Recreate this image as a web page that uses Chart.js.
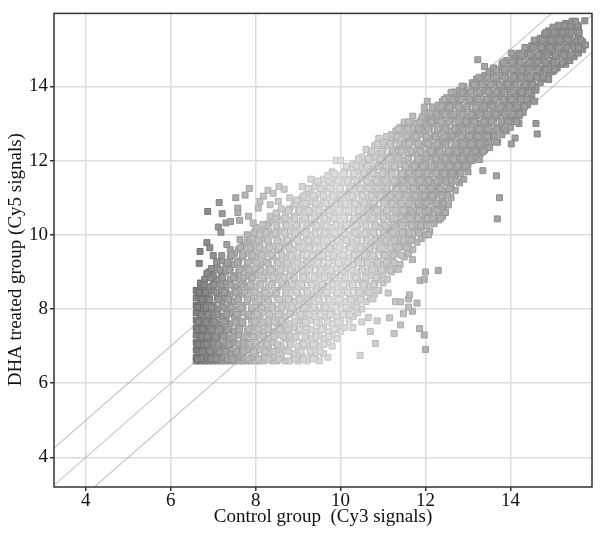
<!DOCTYPE html>
<html>
<head>
<meta charset="utf-8">
<title>DHA scatter</title>
<script src="https://cdn.jsdelivr.net/npm/chart.js@4"></script>
<style>
  html, body { margin: 0; padding: 0; background: #fff; }
  canvas { display: block; filter: blur(0.4px); }
</style>
</head>
<body>
<canvas id="grafico" width="600" height="535"></canvas>
<script>
const xTicks = [4, 6, 8, 10, 12, 14];
const yTicks = [4, 6, 8, 10, 12, 14];

// each row of the cloud: one signal level on y, the x values found there
const yLevels = [6.6,6.7,6.8,6.9,7.0,7.1,7.2,7.3,7.4,7.5,7.6,7.7,7.8,7.9,8.0,8.1,8.2,8.3,8.4,8.5,8.6,8.7,8.8,8.9,9.0,9.1,9.2,9.3,9.4,9.5,9.6,9.7,9.8,9.9,10.0,10.1,10.2,10.3,10.4,10.5,10.6,10.7,10.8,10.9,11.0,11.1,11.2,11.3,11.4,11.5,11.6,11.7,11.8,11.9,12.0,12.1,12.2,12.3,12.4,12.5,12.6,12.7,12.8,12.9,13.0,13.1,13.2,13.3,13.4,13.5,13.6,13.7,13.8,13.9,14.0,14.1,14.2,14.3,14.4,14.5,14.6,14.7,14.8,14.9,15.0,15.1,15.2,15.3,15.4,15.5,15.6,15.7];
const xRows = [
[6.6,6.7,6.8,6.9,7.0,7.1,7.2,7.3,7.4,7.5,7.6,7.7,7.8,7.9,8.0,8.1,8.2,8.4,8.5,8.7,8.8,9.0,9.2,9.5],
[6.6,6.8,7.0,7.2,7.5,7.7,7.9,8.2,8.4,8.6,8.9,9.1,9.4,9.7],
[6.7,6.9,7.1,7.4,7.6,8.0,8.3,8.6,8.9,9.3,9.6],
[6.6,6.8,7.0,7.3,7.6,7.8,8.1,8.5,8.7,9.0,9.4],
[6.7,6.9,7.2,7.4,7.7,8.0,8.3,8.6,9.0,9.2,9.5,9.8],
[6.6,6.8,7.0,7.3,7.5,7.8,8.2,8.4,8.8,9.1,9.4,9.7],
[6.7,6.9,7.1,7.4,7.7,8.0,8.3,8.7,8.9,9.3,9.6,9.9],
[6.6,6.8,7.0,7.2,7.6,7.9,8.1,8.5,8.8,9.2,9.5,9.8],
[6.7,6.9,7.3,7.5,7.8,8.2,8.4,8.7,9.0,9.4,9.7,10.0],
[6.6,6.8,7.0,7.2,7.6,7.9,8.3,8.6,8.9,9.2,9.6,9.9,10.1],
[6.7,6.9,7.1,7.4,7.7,8.0,8.2,8.5,8.8,9.1,9.5,9.8],
[6.6,6.8,7.0,7.3,7.6,7.9,8.3,8.6,9.0,9.3,9.7,10.0,10.2],
[6.7,6.9,7.2,7.5,7.8,8.1,8.4,8.7,9.1,9.4,9.6,9.9,10.3],
[6.6,6.8,7.0,7.4,7.7,8.0,8.2,8.6,8.9,9.2,9.5,9.8,10.1,10.4],
[6.7,6.9,7.1,7.3,7.6,7.9,8.3,8.5,8.8,9.1,9.4,9.7,10.0,10.2,10.5],
[6.6,6.8,7.0,7.4,7.7,8.1,8.4,8.7,9.0,9.3,9.6,9.9,10.3],
[6.7,6.9,7.2,7.5,7.8,8.0,8.3,8.6,8.9,9.2,9.5,9.8,10.1,10.4,10.6],
[6.6,6.8,7.1,7.3,7.6,7.9,8.2,8.5,8.8,9.1,9.4,9.7,10.0,10.3,10.7],
[6.7,6.9,7.2,7.4,7.7,8.1,8.4,8.7,9.0,9.3,9.6,9.9,10.2,10.5,10.8],
[6.6,6.8,7.0,7.3,7.6,7.9,8.2,8.5,8.9,9.2,9.5,9.8,10.1,10.4,10.6,10.9],
[6.7,6.9,7.2,7.5,7.8,8.0,8.3,8.6,8.8,9.1,9.4,9.7,10.0,10.3,10.7],
[6.7,7.0,7.3,7.7,8.1,8.4,8.7,9.0,9.3,9.6,9.9,10.2,10.5,10.8,11.0],
[6.8,7.1,7.4,7.6,7.9,8.2,8.5,8.9,9.2,9.5,9.8,10.1,10.4,10.6,10.9,11.1],
[7.0,7.2,7.5,7.8,8.0,8.3,8.6,8.8,9.1,9.4,9.7,10.0,10.3,10.7,11.0],
[6.9,7.3,7.6,7.9,8.2,8.5,8.9,9.2,9.5,9.8,10.1,10.4,10.6,10.9,11.2],
[7.1,7.4,7.7,8.0,8.4,8.7,9.0,9.3,9.6,9.9,10.2,10.5,10.8,11.1,11.3],
[7.3,7.5,7.8,8.1,8.3,8.6,8.8,9.1,9.4,9.7,10.0,10.3,10.7,11.0,11.4],
[7.2,7.6,7.9,8.2,8.5,8.9,9.2,9.5,9.8,10.1,10.4,10.6,10.9,11.2],
[7.4,7.7,8.0,8.4,8.7,9.0,9.3,9.6,9.9,10.2,10.5,10.8,11.1,11.5],
[7.5,7.8,8.1,8.3,8.6,8.8,9.1,9.4,9.7,10.0,10.3,10.7,11.0,11.3,11.6],
[7.4,7.6,7.9,8.2,8.5,8.9,9.2,9.5,9.8,10.1,10.4,10.6,10.9,11.2,11.7],
[7.7,8.0,8.4,8.7,9.0,9.3,9.6,9.9,10.2,10.5,10.8,11.1,11.4,11.6],
[7.8,8.1,8.3,8.6,8.8,9.1,9.4,9.7,10.0,10.3,10.7,11.0,11.3,11.5,11.8],
[7.9,8.2,8.5,8.9,9.2,9.5,9.8,10.1,10.4,10.6,10.9,11.2,11.4,11.7,11.9],
[7.8,8.0,8.4,8.7,9.0,9.3,9.6,9.9,10.2,10.5,10.8,11.1,11.3,11.6,12.0],
[8.1,8.3,8.6,8.8,9.1,9.4,9.7,10.0,10.3,10.7,11.0,11.2,11.5,11.8,12.1],
[8.0,8.2,8.5,8.9,9.2,9.5,9.8,10.1,10.4,10.6,10.9,11.1,11.4,11.7,11.9],
[8.3,8.7,9.0,9.3,9.6,9.9,10.2,10.5,10.8,11.0,11.3,11.6,11.8,12.0,12.2],
[8.4,8.6,8.8,9.1,9.4,9.7,10.0,10.3,10.7,11.2,11.5,11.7,11.9,12.1,12.3],
[8.5,8.9,9.2,9.5,9.8,10.1,10.4,10.6,10.9,11.1,11.4,11.6,11.8,12.0,12.4],
[8.7,9.0,9.3,9.6,9.9,10.2,10.5,10.8,11.0,11.3,11.5,11.7,12.1,12.3],
[8.6,8.8,9.1,9.4,9.7,10.0,10.3,10.7,10.9,11.2,11.4,11.6,11.9,12.2,12.4],
[8.9,9.2,9.5,9.8,10.1,10.4,10.6,10.8,11.1,11.3,11.5,11.8,12.0,12.3,12.5],
[9.0,9.3,9.6,9.9,10.2,10.5,10.7,11.0,11.2,11.4,11.7,11.9,12.1,12.4],
[8.8,9.1,9.4,9.7,10.0,10.3,10.6,10.9,11.1,11.3,11.6,11.8,12.0,12.2,12.6],
[9.2,9.5,9.8,10.1,10.4,10.8,11.0,11.2,11.5,11.7,11.9,12.1,12.3,12.5],
[9.3,9.6,9.9,10.2,10.5,10.7,10.9,11.1,11.4,11.6,11.8,12.0,12.2,12.4,12.7],
[9.1,9.4,9.7,10.0,10.3,10.6,10.8,11.0,11.3,11.5,11.7,11.9,12.1,12.3,12.6],
[9.5,9.8,10.1,10.4,10.7,10.9,11.2,11.4,11.6,11.8,12.0,12.2,12.5,12.8],
[9.3,9.6,9.9,10.2,10.5,10.8,11.0,11.3,11.5,11.7,11.9,12.1,12.4,12.6,12.9],
[9.7,10.0,10.3,10.6,10.9,11.1,11.4,11.6,11.8,12.0,12.3,12.5,12.7],
[9.8,10.1,10.4,10.7,11.0,11.2,11.5,11.7,11.9,12.2,12.4,12.6,12.8,13.0],
[10.2,10.5,10.8,11.1,11.3,11.6,11.8,12.0,12.1,12.3,12.5,12.7,12.9],
[10.3,10.6,10.9,11.0,11.4,11.7,11.9,12.2,12.4,12.6,12.8,13.0],
[9.9,10.5,10.7,11.0,11.2,11.5,11.8,12.0,12.3,12.5,12.7,12.9,13.1],
[10.5,10.8,11.1,11.3,11.6,11.9,12.1,12.4,12.6,12.8,13.0,13.2],
[10.7,10.9,11.2,11.4,11.7,12.0,12.2,12.5,12.7,12.9,13.1,13.3],
[10.6,11.0,11.3,11.5,11.8,12.1,12.3,12.6,12.8,13.0,13.2,13.4],
[10.8,11.1,11.4,11.6,11.9,12.2,12.4,12.7,12.9,13.1,13.3,13.5],
[11.0,11.2,11.5,11.7,12.0,12.3,12.5,12.8,13.0,13.2,13.4,13.7],
[10.9,11.3,11.6,11.8,12.1,12.4,12.6,12.9,13.1,13.3,13.6],
[11.2,11.4,11.7,11.9,12.2,12.5,12.7,13.0,13.2,13.4,13.5,13.8],
[11.3,11.5,11.8,12.0,12.3,12.6,12.8,13.1,13.3,13.6,13.9],
[11.4,11.7,11.9,12.1,12.4,12.7,12.9,13.2,13.4,13.7,14.0],
[11.5,11.8,12.0,12.2,12.5,12.8,13.0,13.3,13.5,13.8,14.2],
[11.9,12.1,12.3,12.6,12.9,13.1,13.4,13.6,13.9,14.1],
[11.7,12.0,12.2,12.4,12.7,13.0,13.2,13.5,13.7,14.0,14.2],
[12.1,12.3,12.5,12.8,13.1,13.3,13.6,13.8,14.1,14.3],
[12.2,12.4,12.6,12.9,13.2,13.4,13.7,13.9,14.2],
[12.3,12.5,12.7,13.0,13.3,13.5,13.8,14.0,14.3,14.4],
[12.4,12.6,12.8,13.1,13.4,13.6,13.9,14.1,14.4],
[12.5,12.7,12.9,13.2,13.5,13.7,14.0,14.2,14.3,14.5],
[12.7,12.8,13.0,13.3,13.6,13.8,14.1,14.3,14.5],
[12.8,12.9,13.1,13.4,13.7,13.9,14.2,14.4,14.6],
[12.9,13.1,13.2,13.5,13.8,14.0,14.3,14.5,14.6],
[13.1,13.3,13.6,13.9,14.1,14.4,14.7],
[13.2,13.4,13.7,14.0,14.2,14.5,14.8],
[13.4,13.5,13.8,14.1,14.3,14.6,14.9],
[13.5,13.6,13.9,14.2,14.4,14.7,15.0],
[13.6,13.8,14.0,14.3,14.5,14.8,15.1],
[13.8,14.1,14.4,14.6,14.9,15.2,15.3],
[13.9,14.2,14.5,14.7,15.0,15.3,15.4],
[14.1,14.3,14.6,14.8,15.1,15.4,15.5],
[14.2,14.4,14.7,14.9,15.2,15.5,15.6],
[14.4,14.5,14.8,15.0,15.3,15.6,15.7],
[14.5,14.7,14.9,15.1,15.4,15.6,15.7],
[14.6,14.8,15.0,15.2,15.5,15.7],
[14.7,14.9,15.1,15.3,15.6],
[14.8,15.0,15.2,15.4,15.6],
[14.9,15.1,15.3,15.5],
[15.0,15.2,15.4,15.6],
[15.3,15.5]
];

// second pass over the same cloud, between the rows above
const yLevelsFill = [6.65,6.85,7.05,7.25,7.45,7.65,7.85,8.05,8.25,8.45,8.65,8.85,9.05,9.25,9.45,9.65,9.85,10.05,10.25,10.45,10.65,10.85,11.05,11.25,11.45,11.65,11.85,12.05,12.25,12.45,12.65,12.85,13.05,13.25,13.45,13.65,13.85,14.05,14.25,14.45,14.65,14.85,15.05,15.25,15.45,15.65];
const xRowsFill = [
[6.63,6.72,6.95,7.08,7.33,7.46,7.82,8.07,8.31,8.55,8.93,9.12,9.36],
[6.66,6.75,6.93,7.15,7.28,7.55,7.72,7.95,8.22,8.42,8.78,9.07,9.28,9.52],
[6.64,6.78,6.85,7.12,7.37,7.58,7.86,8.13,8.27,8.52,8.82,9.13,9.35,9.61],
[6.73,6.86,7.06,7.24,7.47,7.73,7.94,8.18,8.43,8.66,8.95,9.16,9.42,9.72],
[6.62,6.76,6.97,7.16,7.35,7.62,7.83,8.06,8.29,8.57,8.76,9.04,9.31,9.56,9.85],
[6.65,6.83,7.04,7.27,7.52,7.68,7.97,8.16,8.44,8.63,8.92,9.17,9.43,9.69,9.94],
[6.72,6.88,7.11,7.32,7.56,7.84,8.04,8.33,8.54,8.81,9.06,9.26,9.53,9.76,10.06,10.22],
[6.63,6.84,6.96,7.23,7.44,7.66,7.91,8.14,8.38,8.62,8.85,9.14,9.37,9.64,9.88,10.13,10.37],
[6.74,6.92,7.13,7.36,7.58,7.81,8.08,8.28,8.56,8.77,9.03,9.24,9.47,9.73,9.96,10.24,10.47],
[6.66,6.82,7.07,7.26,7.53,7.74,7.98,8.23,8.47,8.72,8.97,9.22,9.44,9.66,9.93,10.16,10.44,10.66],
[6.78,7.02,7.18,7.42,7.67,7.88,8.12,8.37,8.64,8.86,9.08,9.33,9.57,9.82,10.07,10.28,10.54,10.78],
[6.94,7.22,7.48,7.71,7.92,8.17,8.41,8.67,8.91,9.13,9.38,9.62,9.86,10.12,10.36,10.58,10.84],
[7.16,7.38,7.63,7.85,8.11,8.35,8.58,8.83,9.09,9.27,9.54,9.77,10.03,10.26,10.51,10.74,10.96,11.16],
[7.34,7.57,7.82,8.03,8.26,8.53,8.74,8.98,9.23,9.46,9.71,9.95,10.17,10.42,10.63,10.87,11.08,11.26],
[7.43,7.69,7.93,8.15,8.39,8.61,8.84,9.11,9.34,9.58,9.83,10.05,10.32,10.56,10.76,11.04,11.24,11.43],
[7.64,7.87,8.09,8.32,8.55,8.79,9.02,9.26,9.49,9.74,9.97,10.23,10.46,10.68,10.93,11.17,11.37,11.55],
[7.86,8.06,8.28,8.51,8.75,8.99,9.24,9.45,9.68,9.92,10.14,10.38,10.62,10.83,11.06,11.27,11.48,11.66],
[7.96,8.24,8.46,8.68,8.93,9.18,9.41,9.63,9.87,10.09,10.34,10.57,10.77,11.03,11.24,11.45,11.62,11.84],
[8.25,8.48,8.73,8.96,9.21,9.44,9.67,9.89,10.13,10.37,10.59,10.82,11.05,11.26,11.46,11.67,11.88,12.03],
[8.46,8.69,8.92,9.16,9.39,9.62,9.85,10.08,10.33,10.55,10.75,11.01,11.23,11.42,11.64,11.83,12.04,12.18],
[8.77,9.03,9.25,9.48,9.73,9.96,10.18,10.43,10.65,10.86,11.08,11.28,11.47,11.66,11.86,12.06,12.27],
[8.94,9.17,9.42,9.65,9.88,10.12,10.34,10.56,10.78,11.02,11.21,11.43,11.62,11.83,12.03,12.26,12.43],
[9.13,9.36,9.59,9.83,10.04,10.27,10.52,10.73,10.94,11.16,11.36,11.55,11.76,11.97,12.16,12.38,12.52],
[9.24,9.54,9.76,9.98,10.23,10.46,10.66,10.88,11.09,11.31,11.49,11.72,11.92,12.13,12.34,12.57],
[9.46,9.72,9.94,10.16,10.38,10.62,10.84,11.06,11.26,11.46,11.67,11.87,12.07,12.27,12.47,12.72],
[9.85,10.08,10.32,10.55,10.76,10.98,11.21,11.44,11.63,11.84,12.04,12.25,12.44,12.63,12.83],
[10.14,10.37,10.63,10.87,11.07,11.27,11.53,11.74,11.94,12.14,12.36,12.56,12.76,12.94],
[10.42,10.66,10.94,11.14,11.36,11.58,11.82,12.03,12.24,12.46,12.66,12.86,13.06],
[10.73,10.96,11.23,11.44,11.66,11.87,12.13,12.33,12.54,12.74,12.97,13.17,13.36],
[10.86,11.17,11.38,11.62,11.83,12.06,12.27,12.48,12.69,12.88,13.08,13.28,13.48],
[11.08,11.33,11.56,11.77,12.02,12.23,12.44,12.64,12.84,13.04,13.24,13.46,13.63],
[11.36,11.58,11.84,12.07,12.28,12.47,12.68,12.88,13.07,13.26,13.47,13.67,13.86],
[11.64,11.87,12.14,12.36,12.56,12.77,12.96,13.16,13.37,13.56,13.78,13.96,14.14],
[11.97,12.26,12.46,12.66,12.87,13.07,13.27,13.46,13.66,13.87,14.06,14.22],
[12.16,12.38,12.57,12.78,12.97,13.18,13.38,13.57,13.76,13.97,14.16,14.33],
[12.44,12.64,12.84,13.04,13.24,13.44,13.64,13.84,14.02,14.24,14.38],
[12.66,12.86,13.06,13.26,13.47,13.66,13.86,14.06,14.26,14.43],
[13.14,13.34,13.54,13.74,13.94,14.13,14.34,14.52],
[13.26,13.46,13.66,13.87,14.07,14.26,14.46,14.62,14.78],
[13.67,13.86,14.06,14.26,14.44,14.64,14.84,15.04],
[13.84,14.04,14.23,14.44,14.64,14.83,15.03,15.22],
[14.07,14.27,14.46,14.66,14.86,15.06,15.26,15.42],
[14.34,14.54,14.73,14.93,15.14,15.33,15.52],
[14.56,14.76,14.96,15.16,15.36,15.56,15.66],
[14.83,15.03,15.23,15.43,15.62],
[15.13,15.27,15.42,15.58]
];

// stray points, away from the main cloud
const strayX = [6.87,7.14,7.21,7.53,7.75,7.85,7.12,7.18,7.3,7.41,7.62,7.58,7.58,7.83,7.94,8.17,8.06,8.34,8.48,8.1,8.55,8.67,8.97,8.29,8.41,8.18,8.34,8.53,6.85,6.69,6.67,6.92,7.0,7.08,6.85,6.96,7.2,7.32,7.63,7.93,8.1,10.0,10.46,10.82,10.29,10.7,11.26,11.41,11.86,10.5,10.65,10.86,11.15,11.48,11.69,11.6,11.29,11.41,11.8,11.6,11.62,11.12,10.86,10.76,11.69,11.36,11.87,12.0,11.97,12.3,11.97,12.0,13.69,13.74,13.67,13.35,13.27,13.23,13.39,14.6,14.63,14.11,14.02,13.67,13.51,14.02,12.86,12.6,12.54,12.47,12.35,12.07,12.04,11.97,11.92,11.5,11.6,15.75,15.77,15.6,15.45,15.53,14.57,14.9];
const strayY = [10.63,10.87,10.57,11.0,11.07,11.25,10.21,10.07,10.32,10.36,10.39,10.72,10.6,10.5,10.32,10.28,10.72,10.5,10.59,10.9,11.3,11.23,10.94,11.2,11.12,11.04,10.81,10.9,9.79,9.55,9.23,9.65,9.44,9.27,8.96,9.09,9.44,9.74,9.87,9.9,10.0,12.0,6.75,7.07,7.5,7.39,7.34,7.57,7.47,7.65,7.77,7.68,7.76,7.87,7.94,8.05,8.2,8.19,8.16,8.27,8.38,8.43,8.5,8.27,9.33,9.07,8.77,6.91,7.3,9.04,8.8,9.0,10.43,11.0,11.59,11.73,12.03,14.72,14.54,13.0,12.72,12.61,12.45,12.5,12.35,14.9,14.01,13.84,10.81,10.6,10.44,10.0,13.6,13.44,13.18,13.04,13.04,15.77,15.12,15.04,15.76,15.76,13.6,14.19];

// the three guide lines: equal signal and one unit either side
const upperLineX = [3.25, 14.97];
const upperLineY = [4.25, 15.97];
const middleLineX = [3.25, 15.92];
const middleLineY = [3.25, 15.92];
const lowerLineX = [4.2, 15.92];
const lowerLineY = [3.2, 14.92];

// grey of the squares along the x axis
const grisX = [6.6, 7.0, 7.5, 8.0, 9.0, 10.0, 11.0, 12.0, 13.0, 14.0, 15.0];
const grisValor = [130, 145, 170, 192, 212, 222, 204, 180, 168, 160, 150];

function juntar(xs, ys) {
    return xs.map((x, i) => ({ x: x, y: ys[i] }));
}

let puntos = [];
yLevels.forEach((y, i) => {
    xRows[i].forEach(x => puntos.push({ x: x, y: y }));
});
yLevelsFill.forEach((y, i) => {
    xRowsFill[i].forEach(x => puntos.push({ x: x, y: y }));
});
puntos = puntos.concat(juntar(strayX, strayY));

function gris(x) {
    let i = 0;
    while (i < grisX.length - 2 && x > grisX[i + 1]) i++;
    let t = (x - grisX[i]) / (grisX[i + 1] - grisX[i]);
    t = Math.min(1, Math.max(0, t));
    return Math.round(grisValor[i] + t * (grisValor[i + 1] - grisValor[i]));
}

function linea(xs, ys) {
    return {
        type: 'scatter',
        data: juntar(xs, ys),
        showLine: true,
        borderColor: 'rgba(150,150,150,0.55)',
        borderWidth: 1.1,
        pointRadius: 0,
        clip: true
    };
}

const fuente = 'Liberation Serif, Times New Roman, serif';

// marco completo del panel
const marco = {
    id: 'marco',
    afterDraw(chart) {
        const a = chart.chartArea;
        const ctx = chart.ctx;
        ctx.save();
        ctx.strokeStyle = '#333';
        ctx.lineWidth = 1.5;
        ctx.strokeRect(a.left, a.top, a.right - a.left, a.bottom - a.top);
        ctx.restore();
    }
};

function ejes(ticks, min, max, titulo, pad) {
    return {
        type: 'linear',
        min: min,
        max: max,
        afterBuildTicks: s => { s.ticks = ticks.map(v => ({ value: v })); },
        grid: { color: '#dcdcdc', lineWidth: 1.5, tickColor: '#333', tickLength: 4 },
        border: { display: false },
        ticks: { color: '#111', font: { family: fuente, size: 19 }, padding: 2, maxRotation: 0 },
        title: { display: true, text: titulo, color: '#111', font: { family: fuente, size: 19 }, padding: pad }
    };
}

const escalaX = ejes(xTicks, 3.25, 15.92, 'Control group  (Cy3 signals)', { top: 0, bottom: 7 });
escalaX.afterFit = s => { s.height = 48; };
escalaX.ticks.padding = -1;
// espacios al final para bajar el titulo como en el original
const escalaY = ejes(yTicks, 3.2, 15.97, 'DHA treated group (Cy5 signals)    ', { top: 5, bottom: 0 });
escalaY.afterFit = s => { s.width = 54; };

new Chart(document.getElementById('grafico'), {
    type: 'scatter',
    data: {
        datasets: [
            linea(upperLineX, upperLineY),
            linea(middleLineX, middleLineY),
            linea(lowerLineX, lowerLineY),
            {
                data: puntos,
                pointStyle: 'rect',
                pointRadius: 4.2,
                pointBorderWidth: 1,
                pointBackgroundColor: c => {
                    const g = gris(c.raw.x);
                    return `rgb(${g},${g},${g})`;
                },
                pointBorderColor: c => {
                    const g = gris(c.raw.x) - 22;
                    return `rgb(${g},${g},${g})`;
                }
            }
        ]
    },
    plugins: [marco],
    options: {
        responsive: false,
        animation: false,
        layout: { padding: { left: 0, right: 8, top: 8, bottom: 0 } },
        plugins: { legend: { display: false }, tooltip: { enabled: false } },
        scales: { x: escalaX, y: escalaY }
    }
});
</script>
</body>
</html>
